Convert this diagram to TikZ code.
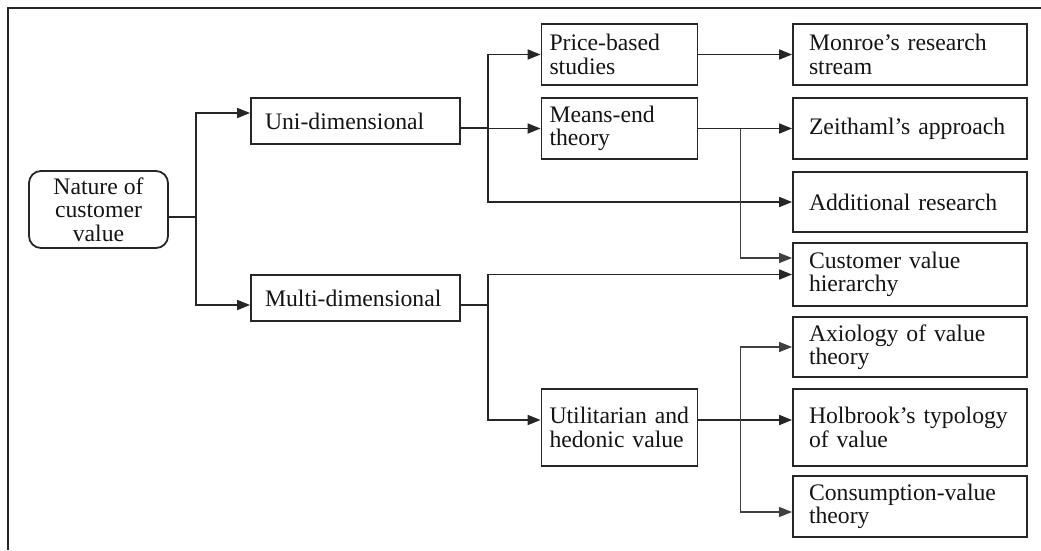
\documentclass[tikz,border=0pt]{standalone}
\usepackage{fontspec}
\setmainfont{Liberation Serif}
\usetikzlibrary{arrows.meta,calc}
\begin{document}
\begin{tikzpicture}[x=1pt,y=-1pt,
  every node/.style={font=\fontsize{23.7}{23.3}\selectfont, text=black!92},
  box/.style={draw=black!85, line width=1.8pt, rectangle, inner ysep=0pt, align=left},
  midbox/.style={box, inner xsep=8pt, text width=140pt, minimum height=#1},
  rbox/.style={box, inner xsep=16pt, text width=202pt, minimum height=#1},
  lbox/.style={box, inner xsep=14pt, text width=181pt, minimum height=46pt},
  conn/.style={draw=black!85, line width=1.7pt},
  arr/.style={conn, -{Triangle[length=13pt,width=10pt]}},
  thinarr/.style={arr, line width=1.3pt, draw=black!75}
]
\useasboundingbox (0,0) rectangle (1041,550);
\draw[line width=2.4pt, black!85] (8,550) -- (8,8) -- (1041,8);

\node[box, rounded corners=12pt, align=center, minimum width=139pt, minimum height=77pt, inner xsep=4pt] (nat) at (98.5,209.5) {Nature of\\customer\\value};
\node[lbox] (uni) at (355.5,121) {Uni-dimensional};
\node[lbox] (mul) at (355.5,298) {Multi-dimensional};

\node[midbox=61pt] (pri) at (619.5,54.5) {Price-based\\studies};
\node[midbox=61pt] (mea) at (619.5,128.5) {Means-end\\theory};
\node[midbox=77pt] (uti) at (619.5,427.5) {Utilitarian and\\hedonic value};

\node[rbox=61pt] (mon) at (910,54.5) {Monroe’s research\\stream};
\node[rbox=61pt] (zei) at (910,128.5) {Zeithaml’s approach};
\node[rbox=60pt] (add) at (910,202) {Additional research};
\node[rbox=63pt] (cvh) at (910,274.5) {Customer value\\hierarchy};
\node[rbox=60pt] (axi) at (910,347) {Axiology of value\\theory};
\node[rbox=77pt] (hol) at (910,427.5) {Holbrook’s typology\\of value};
\node[rbox=61pt] (con) at (910,506.5) {Consumption-value\\theory};

% trunk from root
\draw[conn] ([yshift=-7.5pt]nat.east) -- ++(27,0) coordinate (t1);
\draw[arr] (t1) |- ([yshift=8pt]uni.west);
\draw[arr] (t1) |- ([yshift=-7pt]mul.west);

% uni-dimensional branch
\draw[conn] ([yshift=-7pt]uni.east) -- ++(27,0) coordinate (t2);
\draw[arr] (t2) |- (pri.west);
\draw[arr] (t2) |- (mea.west);
\draw[arr] (t2) |- (add.west);

\draw[arr] (pri.east) -- (mon.west);
\draw[arr] (mea.east) -- (zei.west);
\coordinate (b1) at ($(mea.east)+(42,0)$);
\draw[thinarr] (b1) |- ([yshift=16.5pt]cvh.west);

% multi-dimensional branch
\draw[conn] ([yshift=-7pt]mul.east) -- ++(27,0) coordinate (t3);
\draw[arr] (t3) |- (cvh.west);
\draw[arr] (t3) |- ([yshift=7.5pt]uti.west);

\draw[arr] ([yshift=7.5pt]uti.east) -- ([yshift=7.5pt]hol.west);
\coordinate (b2) at ($(uti.east)+(42,-7.5)$);
\draw[thinarr] (b2) |- (axi.west);
\draw[thinarr] (b2) |- ([yshift=-5.5pt]con.west);
\end{tikzpicture}
\end{document}
